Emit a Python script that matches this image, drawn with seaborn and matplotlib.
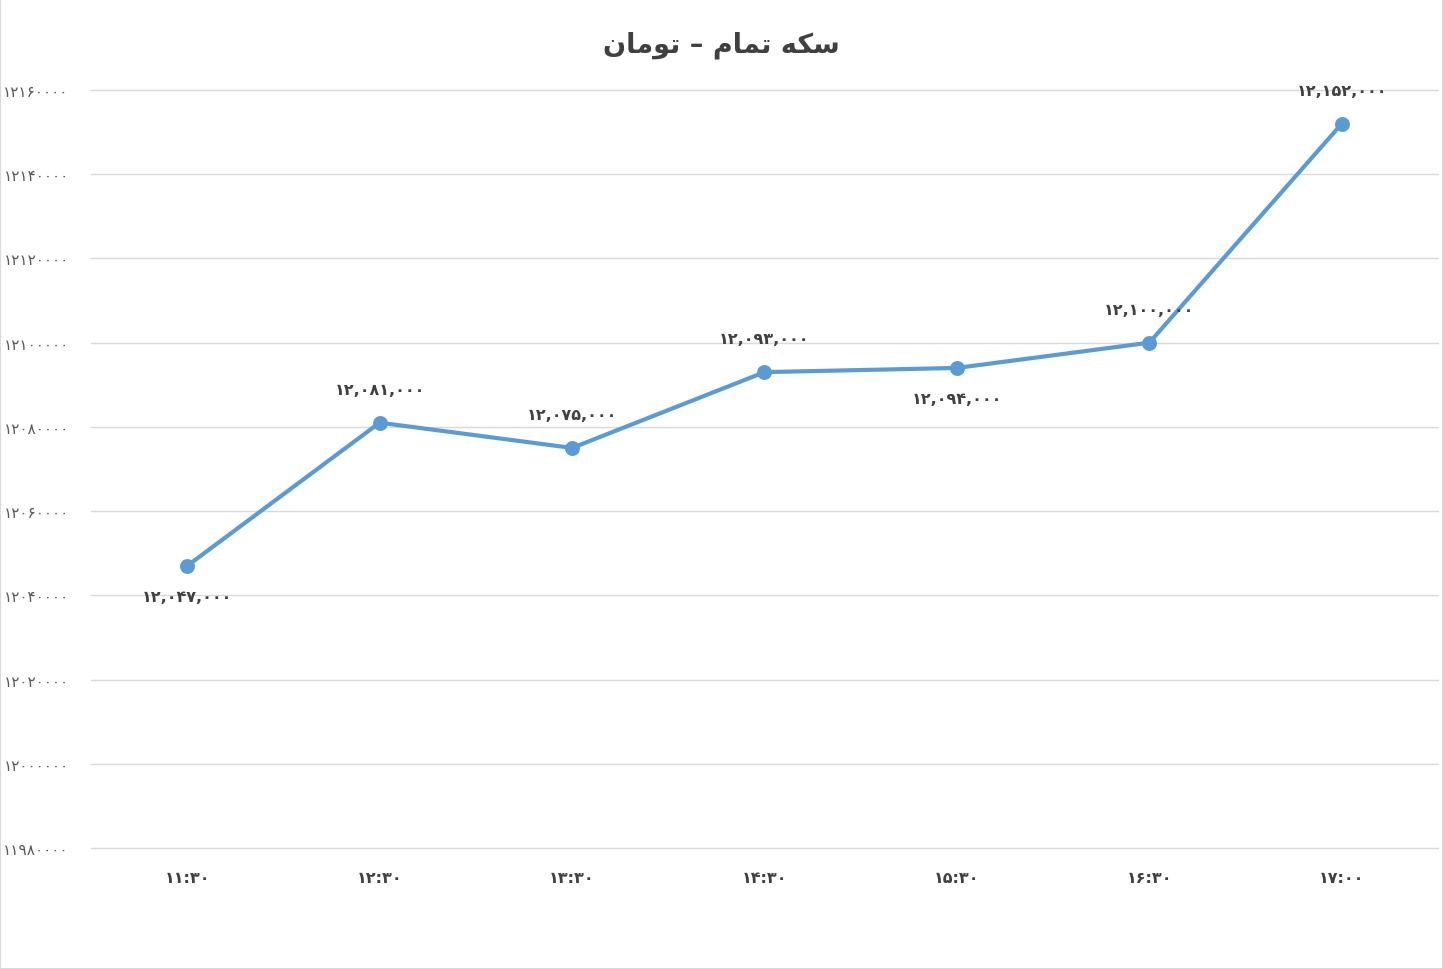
import matplotlib
matplotlib.use("Agg")
import matplotlib.pyplot as plt
import seaborn as sns
import pandas as pd
from matplotlib.ticker import FuncFormatter
from matplotlib.patches import Rectangle

# ---- data ----
title_text = "سکه تمام – تومان"
times = ["۱۱:۳۰", "۱۲:۳۰", "۱۳:۳۰", "۱۴:۳۰", "۱۵:۳۰", "۱۶:۳۰", "۱۷:۰۰"]
prices = [12047000, 12081000, 12075000, 12093000, 12094000, 12100000, 12152000]
label_above = [False, True, True, True, False, True, True]
y_ticks = [11980000, 12000000, 12020000, 12040000, 12060000, 12080000,
           12100000, 12120000, 12140000, 12160000]

FA_DIGITS = str.maketrans("0123456789", "۰۱۲۳۴۵۶۷۸۹")

# minimal Arabic-script shaping for the title (isolated, final, initial, medial)
FORMS = {
    "س": ("\uFEB1", "\uFEB2", "\uFEB3", "\uFEB4"),
    "ک": ("\uFB8E", "\uFB8F", "\uFB90", "\uFB91"),
    "ه": ("\uFEE9", "\uFEEA", "\uFEEB", "\uFEEC"),
    "ت": ("\uFE95", "\uFE96", "\uFE97", "\uFE98"),
    "م": ("\uFEE1", "\uFEE2", "\uFEE3", "\uFEE4"),
    "ا": ("\uFE8D", "\uFE8E", None, None),
    "و": ("\uFEED", "\uFEEE", None, None),
    "ن": ("\uFEE5", "\uFEE6", "\uFEE7", "\uFEE8"),
}


def shape(text):
    out = []
    for i, ch in enumerate(text):
        if ch not in FORMS:
            out.append(ch)
            continue
        f = FORMS[ch]
        prev = text[i - 1] if i > 0 else ""
        nxt = text[i + 1] if i + 1 < len(text) else ""
        pj = prev in FORMS and FORMS[prev][2] is not None
        nj = nxt in FORMS and f[2] is not None
        if pj and nj:
            out.append(f[3])
        elif pj:
            out.append(f[1])
        elif nj:
            out.append(f[2])
        else:
            out.append(f[0])
    return "".join(out)[::-1]


df = pd.DataFrame({"time": times, "price": prices})

sns.set_theme(style="white")
plt.rcParams["font.family"] = ["DejaVu Sans"]

W, H = 1443, 970
fig = plt.figure(figsize=(W / 100, H / 100), dpi=100, facecolor="white")
ax = fig.add_axes([91 / W, 121 / H, (1438 - 91) / W, (849 - 91) / H])

line_color = "#5B9BD5"
sns.pointplot(data=df, x="time", y="price", ax=ax, color=line_color,
              markers="o", markersize=8.5, linewidth=3)

ax.set_ylim(y_ticks[0], y_ticks[-1])
ax.set_xlim(-0.5, len(times) - 0.5)
ax.set_yticks(y_ticks)
ax.yaxis.set_major_formatter(FuncFormatter(lambda v, p: f"{int(round(v))}".translate(FA_DIGITS)))
ax.grid(axis="y", color="#D9D9D9", linewidth=1)
ax.grid(axis="x", visible=False)
for gl in ax.get_ygridlines():
    gl.set_clip_on(False)
for s in ax.spines.values():
    s.set_visible(False)
ax.set_xlabel("")
ax.set_ylabel("")
ax.tick_params(axis="y", length=0, pad=16, labelsize=11, labelcolor="#595959")
ax.tick_params(axis="x", length=0, pad=16, labelsize=11.5, labelcolor="#404040")
for t in ax.get_xticklabels():
    t.set_fontweight("bold")

for i, (v, above) in enumerate(zip(prices, label_above)):
    txt = f"{v:,}".translate(FA_DIGITS)
    ax.annotate(txt, (i, v), xytext=(0, 24 if above else -22), textcoords="offset points",
                ha="center", va="center", fontsize=11.5, fontweight="bold", color="#404040")

fig.text(0.5, 1 - 45 / H, shape(title_text), ha="center", va="center",
         fontsize=19.5, fontweight="bold", color="#404040")

fig.patches.append(Rectangle((0, 0), 1, 1, transform=fig.transFigure, fill=False,
                             edgecolor="#D9D9D9", linewidth=1.5))

fig.savefig("out.png", dpi=100, facecolor="white")
